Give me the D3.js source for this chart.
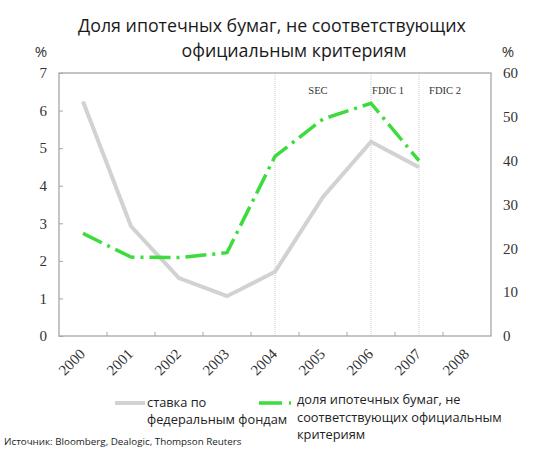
<!DOCTYPE html>
<html>
<head>
<meta charset="utf-8">
<script src="https://cdn.jsdelivr.net/npm/d3@7"></script>
<style>
  body { margin: 0; background: #fff; }
  svg { display: block; }
</style>
</head>
<body>
<svg id="chart" width="550" height="453"></svg>
<script>
/*
 * Non-conforming mortgage share vs fed funds rate
 */

var years = ["2000", "2001", "2002", "2003", "2004", "2005", "2006", "2007", "2008"];
// ставка по федеральным фондам, % (left axis)
var fedFunds = [6.24, 2.92, 1.54, 1.06, 1.71, 3.7, 5.17, 4.49];
// доля ипотечных бумаг, не соответствующих официальным критериям, % (right axis)
var nonConforming = [23.4, 18.0, 17.9, 19.0, 41.0, 49.5, 53.1, 40.0];
var leftTicks = [0, 1, 2, 3, 4, 5, 6, 7];
var rightTicks = [0, 10, 20, 30, 40, 50, 60];
var markerYears = ["2004", "2006", "2007"];
var markerLabels = ["SEC", "FDIC 1", "FDIC 2"];

var titleLines = ["Доля ипотечных бумаг, не соответствующих", "официальным критериям"];
var legendFed = ["ставка по", "федеральным фондам"];
var legendShare = ["доля ипотечных бумаг, не", "соответствующих официальным", "критериям"];
var sourceText = "Источник: Bloomberg, Dealogic, Thompson Reuters";

var sans = "'Open Sans', 'Noto Sans', sans-serif";
var serif = "'Liberation Serif', 'DejaVu Serif', serif";
var grayCol = "#d2d2d2", greenCol = "#3ddc3d", frameCol = "#a6a6a6";

var svg = d3.select("#chart");
var plotL = 59, plotR = 491, plotT = 73, plotB = 336;

var x = d3.scaleBand().domain(years).range([plotL, plotR]);
var cx = function(d) { return x(d) + x.bandwidth() / 2; };
var yL = d3.scaleLinear().domain([0, 7]).range([plotB, plotT]);
var yR = d3.scaleLinear().domain([0, 60]).range([plotB, plotT]);

// title
svg.append("g").selectAll("text").data(titleLines).enter().append("text")
  .attr("x", function(d, i) { return i == 0 ? 272 : 294; })
  .attr("y", function(d, i) { return i == 0 ? 31.5 : 57; })
  .attr("text-anchor", "middle")
  .style("font-family", sans).style("font-size", "17.8px").style("fill", "#1a1a1a")
  .text(function(d) { return d; });

// % unit labels
svg.append("text").attr("x", 41).attr("y", 57).attr("text-anchor", "middle")
  .style("font-family", sans).style("font-size", "15px").style("fill", "#333").text("%");
svg.append("text").attr("x", 508).attr("y", 57).attr("text-anchor", "middle")
  .style("font-family", sans).style("font-size", "15px").style("fill", "#333").text("%");

// vertical dotted markers
svg.append("g").selectAll("line").data(markerYears).enter().append("line")
  .attr("x1", cx).attr("x2", cx)
  .attr("y1", plotT).attr("y2", plotB)
  .style("stroke", "#c8c8c8").style("stroke-width", 1)
  .style("stroke-dasharray", "1,1");

svg.append("g").selectAll("text").data(markerLabels).enter().append("text")
  .attr("x", function(d, i) { return [318, 388, 445][i]; })
  .attr("y", 94)
  .attr("text-anchor", "middle")
  .style("font-family", serif).style("font-size", "10.5px").style("fill", "#333")
  .text(function(d) { return d; });

// frame
svg.append("rect").attr("x", plotL).attr("y", plotT)
  .attr("width", plotR - plotL).attr("height", plotB - plotT)
  .style("fill", "none").style("stroke", frameCol).style("stroke-width", 1.3);

// left axis
var gL = svg.append("g").attr("transform", "translate(" + plotL + ",0)")
  .call(d3.axisLeft(yL).tickValues(leftTicks).tickFormat(d3.format("d"))
    .tickSize(-4).tickPadding(12));
// right axis
var gR = svg.append("g").attr("transform", "translate(" + plotR + ",0)")
  .call(d3.axisRight(yR).tickValues(rightTicks).tickFormat(d3.format("d"))
    .tickSize(0).tickPadding(12));
// bottom axis (labels at category centres)
var gB = svg.append("g").attr("transform", "translate(0," + plotB + ")")
  .call(d3.axisBottom(x).tickSize(0));

[gL, gR, gB].forEach(function(g) {
  g.select(".domain").remove();
  g.selectAll(".tick line").style("stroke", frameCol);
  g.selectAll("text").style("font-family", serif).style("font-size", "15px").style("fill", "#333");
});

gB.selectAll("text")
  .attr("y", 0).attr("dy", 0)
  .attr("text-anchor", "end")
  .attr("transform", "translate(3,19) rotate(-45)");

// bottom ticks at category boundaries (pointing up)
var bounds = years.map(function(d) { return x(d); }).slice(1);
svg.append("g").selectAll("line").data(bounds).enter().append("line")
  .attr("x1", function(d) { return d; }).attr("x2", function(d) { return d; })
  .attr("y1", plotB).attr("y2", plotB - 4)
  .style("stroke", frameCol).style("stroke-width", 1);

// lines
var fedLine = d3.line()
  .x(function(d, i) { return cx(years[i]); })
  .y(function(d) { return yL(d); });
var shareLine = d3.line()
  .x(function(d, i) { return cx(years[i]); })
  .y(function(d) { return yR(d); });

svg.append("path").datum(fedFunds).attr("d", fedLine)
  .style("fill", "none").style("stroke", grayCol).style("stroke-width", 4)
  .style("stroke-linejoin", "miter");

svg.append("path").datum(nonConforming).attr("d", shareLine)
  .style("fill", "none").style("stroke", greenCol).style("stroke-width", 3.5)
  .style("stroke-dasharray", "21,6,3,6");

// legend
svg.append("line").attr("x1", 115).attr("x2", 145).attr("y1", 403).attr("y2", 403)
  .style("stroke", grayCol).style("stroke-width", 4);
svg.append("g").selectAll("text").data(legendFed).enter().append("text")
  .attr("x", 147).attr("y", function(d, i) { return 407 + i * 17; })
  .style("font-family", sans).style("font-size", "12.8px").style("fill", "#222")
  .text(function(d) { return d; });

svg.append("line").attr("x1", 259).attr("x2", 292).attr("y1", 403).attr("y2", 403)
  .style("stroke", greenCol).style("stroke-width", 3.5)
  .style("stroke-dasharray", "23,7,2,20");
svg.append("g").selectAll("text").data(legendShare).enter().append("text")
  .attr("x", 297).attr("y", function(d, i) { return 404 + i * 17.7; })
  .style("font-family", sans).style("font-size", "12.8px").style("fill", "#222")
  .text(function(d) { return d; });

// source
svg.append("text").attr("x", 4).attr("y", 445)
  .style("font-family", sans).style("font-size", "9.8px").style("fill", "#222")
  .text(sourceText);
</script>
</body>
</html>
